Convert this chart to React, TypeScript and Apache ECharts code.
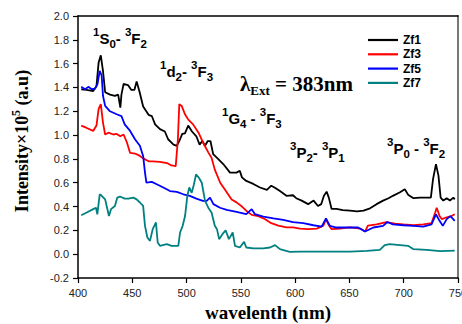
import React, { useEffect, useRef } from "react";
import * as echarts from "echarts";

// [wavelength (nm), intensity x10^5 (a.u)]
const zf1: [number, number][] = [
  [403, 1.385], [408, 1.38], [414, 1.37], [417, 1.41], [419, 1.61], [421, 1.67], [423, 1.54], [425, 1.36],
  [429.5, 1.34], [434, 1.33], [437, 1.34], [439, 1.23], [440, 1.34], [442, 1.43], [446, 1.42], [449, 1.38],
  [452, 1.38], [454, 1.45], [456.5, 1.37], [460, 1.24], [465, 1.17], [468, 1.16], [471, 1.09], [475.5, 1.05],
  [480, 1.03], [483, 0.965], [488, 0.92], [491, 0.91], [494, 0.965], [496, 1.01], [498.5, 1.015], [501.5, 1.08],
  [505, 1.03], [509, 0.99], [512, 0.92], [514.5, 0.95], [517, 0.91], [519.5, 0.95], [522, 0.95], [524.5, 0.84],
  [529, 0.8], [534, 0.755], [540, 0.685], [546, 0.685], [549, 0.7], [551, 0.645], [555, 0.615], [561.5, 0.59],
  [567.6, 0.56], [574, 0.54], [578, 0.575], [581, 0.56], [586, 0.53], [592, 0.49], [598, 0.495], [601, 0.47],
  [606, 0.45], [612, 0.42], [617, 0.45], [621, 0.405], [624, 0.42], [626.5, 0.49], [629, 0.525], [631, 0.475],
  [633.6, 0.38], [638, 0.38], [644, 0.37], [650.5, 0.365], [657, 0.36], [663, 0.365], [669, 0.385], [675, 0.42],
  [681, 0.45], [686, 0.47], [690, 0.49], [696.6, 0.52], [701, 0.545], [704, 0.5], [709, 0.47], [715, 0.475],
  [721, 0.475], [725, 0.475], [727, 0.63], [729.7, 0.755], [732, 0.66], [734, 0.475], [736.5, 0.45],
  [739.6, 0.47], [742.6, 0.45], [745.7, 0.475], [747, 0.46],
];

const zf3: [number, number][] = [
  [403, 1.08], [408, 1.06], [414, 1.035], [417, 1.08], [419, 1.22], [421, 1.26], [423, 1.105], [425, 1.005],
  [428, 1.02], [432.5, 1.005], [435.6, 1.01], [439, 0.99], [442, 1.005], [445, 0.94], [448, 0.85], [452.5, 0.845],
  [457, 0.825], [461, 0.8], [465, 0.78], [469, 0.78], [475.5, 0.775], [482, 0.765], [486, 0.745], [490, 0.74],
  [492, 0.965], [493.3, 1.26], [495.5, 1.245], [498.5, 1.175], [501.6, 1.13], [506, 1.09], [511, 1.02],
  [515, 0.94], [520, 0.855], [523, 0.81], [526, 0.71], [531, 0.6], [537, 0.52], [541.5, 0.46], [546, 0.435],
  [551, 0.4], [555, 0.365], [560, 0.33], [566, 0.32], [572, 0.295], [578, 0.26], [584.5, 0.24], [592, 0.225],
  [598, 0.225], [604.5, 0.215], [612, 0.21], [620, 0.215], [626, 0.24], [628.4, 0.295], [630.6, 0.25],
  [633.6, 0.21], [641, 0.215], [650.5, 0.225], [660, 0.215], [664.4, 0.19], [667, 0.24], [675, 0.25],
  [684, 0.27], [692, 0.257], [699.7, 0.25], [709, 0.243], [718, 0.25], [725.6, 0.26], [729, 0.35],
  [730.4, 0.39], [733, 0.32], [735, 0.295], [739.6, 0.31], [744, 0.32], [747, 0.335],
];

const zf5: [number, number][] = [
  [403, 1.405], [406.5, 1.385], [409.5, 1.405], [412.6, 1.385], [415.6, 1.39], [418, 1.43], [420, 1.54],
  [421.8, 1.5], [423, 1.33], [425, 1.245], [429.5, 1.2], [435.6, 1.175], [440, 1.16], [443, 1.09], [448, 1.035],
  [452.5, 0.965], [457, 0.91], [460, 0.825], [461.7, 0.685], [463, 0.6], [468, 0.607], [472.5, 0.587],
  [478.6, 0.56], [484.7, 0.53], [491, 0.523], [497, 0.503], [503, 0.49], [509, 0.467], [515, 0.448],
  [518.5, 0.448], [521.6, 0.475], [524.7, 0.42], [530.8, 0.39], [537, 0.372], [546, 0.355], [555, 0.336],
  [560, 0.378], [563, 0.336], [570.7, 0.316], [580, 0.3], [589, 0.288], [598, 0.27], [607.5, 0.26],
  [616.8, 0.243], [624.4, 0.232], [628.4, 0.3], [632, 0.238], [638, 0.224], [647.5, 0.224], [658, 0.224],
  [664.4, 0.19], [672, 0.224], [681, 0.238], [685, 0.27], [690, 0.25], [699.7, 0.243], [709, 0.238],
  [718, 0.232], [725.6, 0.25], [729.7, 0.335], [733, 0.28], [736, 0.238], [739.6, 0.294], [743, 0.32],
  [747, 0.28],
];

const zf7: [number, number][] = [
  [403, 0.327], [408, 0.35], [414, 0.378], [416.6, 0.39], [417.8, 0.335], [420, 0.503], [421.8, 0.49],
  [425, 0.46], [426.4, 0.405], [428.5, 0.32], [430.4, 0.378], [434, 0.405], [436.2, 0.475], [438.7, 0.484],
  [443, 0.467], [446.4, 0.467], [451, 0.475], [454, 0.46], [457, 0.434], [460, 0.405], [461.7, 0.238],
  [463.9, 0.14], [466.3, 0.112], [468.8, 0.21], [471.8, 0.266], [473.4, 0.098], [475.5, 0.07], [481.7, 0.084],
  [486.3, 0.07], [492.4, 0.07], [494, 0.182], [496.4, 0.238], [498.6, 0.32], [500.7, 0.49], [502.5, 0.56],
  [504.7, 0.515], [506.8, 0.587], [508.7, 0.67], [511.5, 0.64], [514, 0.6], [517, 0.448], [520, 0.39],
  [523, 0.35], [526, 0.238], [528, 0.21], [530, 0.126], [533, 0.168], [536, 0.2], [539, 0.126], [542.5, 0.182],
  [544.6, 0.07], [549, 0.056], [553, 0.103], [555, 0.056], [561.5, 0.048], [570.7, 0.048], [576.8, 0.056],
  [581.5, 0.076], [586, 0.042], [595, 0.02], [604.5, 0.022], [620, 0.022], [635, 0.022], [650.5, 0.022],
  [666, 0.028], [678, 0.036], [682.5, 0.076], [687, 0.084], [696.6, 0.076], [704, 0.07], [709, 0.042],
  [721, 0.036], [733.7, 0.025], [747, 0.03],
];

const seriesNames = ["Zf1", "Zf3", "Zf5", "Zf7"];
const seriesColors = ["#000000", "#ff0000", "#0000ff", "#008080"];
const seriesData = [zf1, zf3, zf5, zf7];

const xMin = 400;
const xMax = 750;
const xStep = 50;
const yMin = -0.2;
const yMax = 2.0;
const yStep = 0.2;

const ARIAL = 'Arial, "Liberation Sans", sans-serif';
const TIMES = '"Times New Roman", "Liberation Serif", serif';

// transitions: [superscript, letter, subscript, separator, superscript, letter, subscript]
const transitions: { parts: string[]; x: number; y: number }[] = [
  { parts: ["1", "S", "0", "- ", "3", "F", "2"], x: 93, y: 38 },
  { parts: ["1", "d", "2", "- ", "3", "F", "3"], x: 160, y: 71 },
  { parts: ["1", "G", "4", " - ", "3", "F", "3"], x: 222, y: 118 },
  { parts: ["3", "P", "2", "- ", "3", "P", "1"], x: 290, y: 152 },
  { parts: ["3", "P", "0", " - ", "3", "F", "2"], x: 387, y: 148 },
];

const annoRich = {
  m: { fontFamily: ARIAL, fontWeight: "bold", fontSize: 15, lineHeight: 24, fill: "#000" },
  sup: { fontFamily: ARIAL, fontWeight: "bold", fontSize: 11.5, lineHeight: 12, verticalAlign: "top", fill: "#000" },
  sub: { fontFamily: ARIAL, fontWeight: "bold", fontSize: 11.5, lineHeight: 10, verticalAlign: "bottom", fill: "#000" },
};

export default function App() {
  const ref = useRef<HTMLDivElement>(null);

  useEffect(() => {
    if (!ref.current) return;
    const chart = echarts.init(ref.current, undefined, { renderer: "svg" });

    const graphics: any[] = transitions.map((t) => ({
      type: "text",
      x: t.x,
      y: t.y,
      style: {
        text: `{sup|${t.parts[0]}}{m|${t.parts[1]}}{sub|${t.parts[2]}}{m|${t.parts[3]}}{sup|${t.parts[4]}}{m|${t.parts[5]}}{sub|${t.parts[6]}}`,
        rich: annoRich,
        align: "left",
        verticalAlign: "middle",
        fill: "#000",
      },
    }));

    graphics.push({
      type: "text",
      x: 240,
      y: 84,
      style: {
        text: "{m|λ}{sub|Ext}{m| = 383nm}",
        rich: {
          m: { fontFamily: TIMES, fontWeight: "bold", fontSize: 21, lineHeight: 26, fill: "#000" },
          sub: { fontFamily: TIMES, fontWeight: "bold", fontSize: 13, lineHeight: 8, verticalAlign: "bottom", fill: "#000" },
        },
        align: "left",
        verticalAlign: "middle",
        fill: "#000",
      },
    });

    graphics.push({
      type: "text",
      x: 22,
      y: 141,
      rotation: Math.PI / 2,
      style: {
        text: "{a|Intensity×10}{s|5}{a| (a.u)}",
        rich: {
          a: { fontFamily: TIMES, fontWeight: "bold", fontSize: 18, lineHeight: 24, fill: "#000" },
          s: { fontFamily: TIMES, fontWeight: "bold", fontSize: 12, lineHeight: 12, verticalAlign: "top", fill: "#000" },
        },
        align: "center",
        verticalAlign: "middle",
        fill: "#000",
      },
    });

    const option: any = {
      animation: false,
      backgroundColor: "#ffffff",
      grid: { left: 78, right: 4, top: 16, bottom: 46, containLabel: false, outerBoundsMode: "none" },
      legend: {
        data: seriesNames,
        orient: "vertical",
        left: 368,
        top: 33,
        padding: 0,
        icon: "rect",
        itemWidth: 30,
        itemHeight: 2.2,
        itemGap: 0.3,
        textStyle: { fontFamily: ARIAL, fontWeight: "bold", fontSize: 12, color: "#000", lineHeight: 14 },
      },
      xAxis: [
        {
          type: "value",
          min: xMin,
          max: xMax,
          interval: xStep,
          position: "bottom",
          name: "wavelenth (nm)",
          nameLocation: "middle",
          nameGap: 25,
          nameTextStyle: { fontFamily: TIMES, fontWeight: "bold", fontSize: 19, lineHeight: 19, color: "#000" },
          axisLine: { show: true, onZero: false, lineStyle: { color: "#000", width: 1.5 } },
          axisTick: { show: true, inside: false, length: 5, lineStyle: { color: "#000", width: 1.2 } },
          axisLabel: { fontFamily: ARIAL, fontSize: 11, color: "#222", margin: 9, showMaxLabel: true },
          splitLine: { show: false },
        },
        {
          type: "value",
          min: xMin,
          max: xMax,
          position: "top",
          axisLine: { show: true, onZero: false, lineStyle: { color: "#000", width: 1.5 } },
          axisTick: { show: false },
          axisLabel: { show: false },
          splitLine: { show: false },
        },
      ],
      yAxis: [
        {
          type: "value",
          min: yMin,
          max: yMax,
          interval: yStep,
          position: "left",
          axisLine: { show: true, onZero: false, lineStyle: { color: "#000", width: 1.5 } },
          axisTick: { show: true, inside: false, length: 5, lineStyle: { color: "#000", width: 1.2 } },
          axisLabel: {
            fontFamily: ARIAL,
            fontSize: 11,
            color: "#222",
            margin: 9,
            formatter: (v: number) => v.toFixed(1),
          },
          splitLine: { show: false },
        },
        {
          type: "value",
          min: yMin,
          max: yMax,
          position: "right",
          axisLine: { show: true, onZero: false, lineStyle: { color: "#777", width: 2 } },
          axisTick: { show: false },
          axisLabel: { show: false },
          splitLine: { show: false },
        },
      ],
      series: seriesData.map((d, i) => ({
        name: seriesNames[i],
        type: "line",
        xAxisIndex: 0,
        yAxisIndex: 0,
        data: d,
        symbol: "none",
        showSymbol: false,
        color: seriesColors[i],
        lineStyle: { color: seriesColors[i], width: 1.8 },
      })),
      graphic: graphics,
    };

    chart.setOption(option);
    return () => chart.dispose();
  }, []);

  return (
    <div
      ref={ref}
      style={{ position: "fixed", left: 0, top: 0, width: 462, height: 324, background: "#fff" }}
    />
  );
}
